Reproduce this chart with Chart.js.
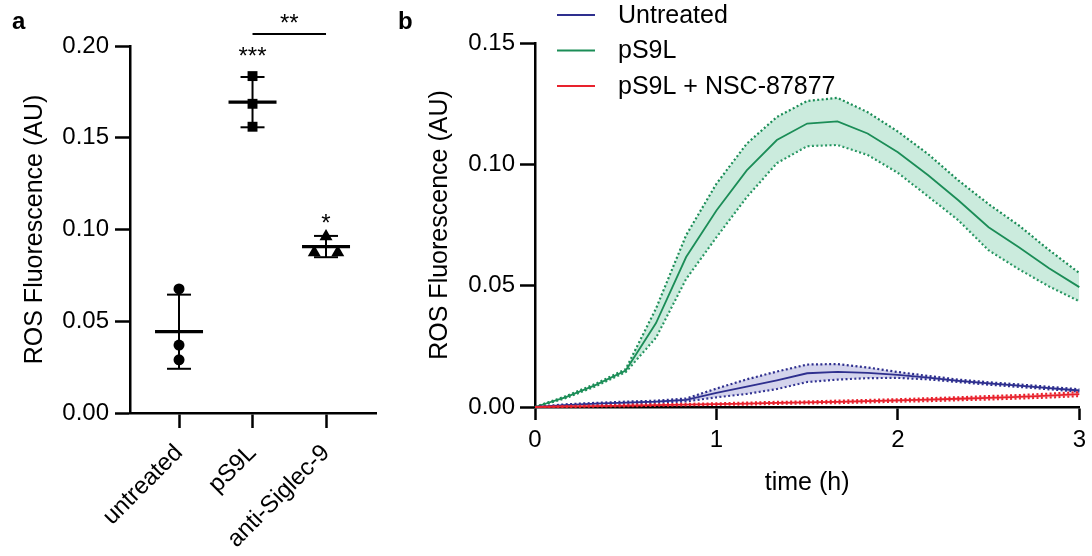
<!DOCTYPE html>
<html>
<head>
<meta charset="utf-8">
<script src="https://cdn.jsdelivr.net/npm/chart.js@4.4.0/dist/chart.umd.min.js"></script>
<style>
  html, body { margin: 0; padding: 0; background: #fff; }
  body { width: 1092px; height: 556px; position: relative; overflow: hidden; font-family: "Liberation Sans", Arial, sans-serif; }
  #wrapA { position: absolute; left: 0; top: 0; width: 395px; height: 556px; }
  #wrapB { position: absolute; left: 395px; top: 0; width: 697px; height: 556px; }
  .panel { position: absolute; font-weight: bold; font-size: 24px; line-height: 28px; color: #000; }
</style>
</head>
<body>
<div id="wrapA"><canvas id="chartA"></canvas></div>
<div id="wrapB"><canvas id="chartB"></canvas></div>
<div class="panel" style="left:12px;top:7px">a</div>
<div class="panel" style="left:398px;top:7px">b</div>

<script>
/* ---- panel a : individual points, mean ± SD ---- */
const GROUPS = ['untreated', 'pS9L', 'anti-Siglec-9'];
const UNTREATED_PTS = [0.0676, 0.037, 0.029];
const PS9L_PTS      = [0.1836, 0.1685, 0.156];
const ANTI_PTS      = [0.0962, 0.0875, 0.0875];
const ANTI_JITTER   = [0, -0.16, 0.16];          // horizontal spread of overlapping points (category units)
const GROUP_MEAN = [0.0443, 0.1694, 0.0907];
const GROUP_SD   = [0.0202, 0.0137, 0.0058];
const STARS      = ['', '***', '*'];
const STAR_Y     = [null, 0.1902, 0.0992];       // baseline of the star text
const BRACKET    = { from: 1, to: 2, y: 0.2066, label: '**', labelY: 0.2082 };

/* ---- panel b : ROS time course, mean ± SD ---- */
const TIME_H = [0, 0.167, 0.333, 0.5, 0.667, 0.833, 1, 1.167, 1.333, 1.5, 1.667, 1.833, 2, 2.167, 2.333, 2.5, 2.667, 2.833, 3];
const SERIES = ['Untreated', 'pS9L', 'pS9L + NSC-87877'];
const UNTREATED_MEAN = [0, 0.0008, 0.0014, 0.0018, 0.0022, 0.0029, 0.0058, 0.0084, 0.011, 0.0139, 0.0145, 0.0141, 0.0132, 0.0121, 0.0108, 0.0097, 0.0088, 0.0078, 0.0068];
const UNTREATED_SD   = [0, 0.0003, 0.0003, 0.0004, 0.0004, 0.0006, 0.0018, 0.003, 0.0036, 0.0036, 0.0032, 0.0022, 0.0012, 0.0007, 0.0005, 0.0005, 0.0005, 0.0005, 0.0005];
const PS9L_MEAN = [0, 0.004, 0.009, 0.0150, 0.0346, 0.0618, 0.081, 0.0975, 0.110, 0.1168, 0.1177, 0.1127, 0.105, 0.0955, 0.0852, 0.0741, 0.0658, 0.0572, 0.0494];
const PS9L_SD   = [0, 0.0004, 0.0005, 0.0006, 0.006, 0.009, 0.011, 0.011, 0.0095, 0.0093, 0.0097, 0.0088, 0.0085, 0.0087, 0.0082, 0.0095, 0.009, 0.0075, 0.0058];
const NSC_MEAN = [0, 0.0002, 0.0004, 0.0006, 0.0008, 0.001, 0.0012, 0.0014, 0.0017, 0.0019, 0.0021, 0.0024, 0.0027, 0.003, 0.0034, 0.0038, 0.0042, 0.0047, 0.0053];
const NSC_SD   = [0, 0.0002, 0.0002, 0.0003, 0.0003, 0.0003, 0.0003, 0.0004, 0.0004, 0.0004, 0.0005, 0.0005, 0.0005, 0.0006, 0.0006, 0.0007, 0.0007, 0.0008, 0.0008];

const COLORS = ['#2e2f8e', '#1b8d57', '#e8222d'];
const FILLS  = ['rgba(95,95,185,0.27)', 'rgba(110,200,160,0.36)', 'rgba(240,90,100,0.25)'];

Chart.defaults.font.family = "'Liberation Sans', Arial, sans-serif";
Chart.defaults.font.size = 24;
Chart.defaults.color = '#000';
Chart.defaults.animation = false;

const axisGrid = (len) => ({ display: true, drawOnChartArea: false, drawTicks: true, tickLength: len, tickWidth: 2.5, tickColor: '#000' });
const axisBorder = { display: true, color: '#000', width: 2.5 };
const titleFont = { size: 25 };

function seg(ctx, x1, y1, x2, y2) {
  ctx.beginPath(); ctx.moveTo(x1, y1); ctx.lineTo(x2, y2); ctx.stroke();
}

// mean line, SD whiskers and significance marks for panel a
const errorBars = {
  id: 'errorBars',
  afterDatasetsDraw(chart) {
    const { ctx, scales: { x, y } } = chart;
    ctx.save();
    ctx.strokeStyle = '#000';
    ctx.fillStyle = '#000';
    GROUP_MEAN.forEach((m, i) => {
      const px = x.getPixelForValue(i);
      const yt = y.getPixelForValue(m + GROUP_SD[i]);
      const yb = y.getPixelForValue(m - GROUP_SD[i]);
      const ym = y.getPixelForValue(m);
      ctx.lineWidth = 2;
      seg(ctx, px, yt, px, yb);
      seg(ctx, px - 12, yt, px + 12, yt);
      seg(ctx, px - 12, yb, px + 12, yb);
      ctx.lineWidth = 3.2;
      seg(ctx, px - 24, ym, px + 24, ym);
    });
    ctx.font = "24px 'Liberation Sans', Arial, sans-serif";
    ctx.textAlign = 'center';
    ctx.textBaseline = 'alphabetic';
    STARS.forEach((s, i) => {
      if (s) ctx.fillText(s, x.getPixelForValue(i), y.getPixelForValue(STAR_Y[i]));
    });
    ctx.lineWidth = 2;
    const by = y.getPixelForValue(BRACKET.y);
    seg(ctx, x.getPixelForValue(BRACKET.from), by, x.getPixelForValue(BRACKET.to), by);
    ctx.fillText(BRACKET.label, x.getPixelForValue((BRACKET.from + BRACKET.to) / 2), y.getPixelForValue(BRACKET.labelY));
    ctx.restore();
  }
};

const pts = (vals, idx, jit) => vals.map((v, i) => ({ x: idx + (jit ? jit[i] : 0), y: v }));

new Chart(document.getElementById('chartA'), {
  type: 'scatter',
  data: {
    datasets: [
      { label: GROUPS[0], data: pts(UNTREATED_PTS, 0), pointStyle: 'circle', pointRadius: 5.5 },
      { label: GROUPS[1], data: pts(PS9L_PTS, 1), pointStyle: 'rect', pointRadius: 7 },
      { label: GROUPS[2], data: pts(ANTI_PTS, 2, ANTI_JITTER), pointStyle: 'triangle', pointRadius: 7.5 }
    ].map(d => Object.assign(d, { backgroundColor: '#000', borderColor: '#000', borderWidth: 0, pointHoverRadius: d.pointRadius, clip: false }))
  },
  options: {
    responsive: true,
    maintainAspectRatio: false,
    layout: { padding: { top: 46, right: 19, left: 0, bottom: 0 } },
    plugins: { legend: { display: false }, tooltip: { enabled: false } },
    scales: {
      x: {
        type: 'linear', min: -0.667, max: 2.68,
        afterBuildTicks: s => { s.ticks = GROUPS.map((_, i) => ({ value: i })); },
        afterFit: s => { s.height = 143; },
        grid: axisGrid(15),
        border: axisBorder,
        ticks: { autoSkip: false, minRotation: 45, maxRotation: 45, padding: 11, callback: v => GROUPS[v] ?? '' }
      },
      y: {
        min: 0, max: 0.2,
        afterFit: s => { s.width = 130; },
        grid: axisGrid(15),
        border: axisBorder,
        ticks: { stepSize: 0.05, padding: 6, callback: v => v.toFixed(2) },
        title: { display: true, text: 'ROS Fluorescence (AU)', font: titleFont, padding: { top: 20, bottom: 0 } }
      }
    }
  },
  plugins: [errorBars]
});

// legend drawn above the plot area, like the original
const sideLegend = {
  id: 'sideLegend',
  afterDraw(chart) {
    const { ctx } = chart;
    ctx.save();
    ctx.font = "25px 'Liberation Sans', Arial, sans-serif";
    ctx.textBaseline = 'middle';
    ctx.textAlign = 'left';
    SERIES.forEach((name, i) => {
      const yy = 15 + i * 35.5;
      ctx.strokeStyle = COLORS[i];
      ctx.lineWidth = 2;
      seg(ctx, 162, yy, 200, yy);
      ctx.fillStyle = '#000';
      ctx.fillText(name, 223, yy + 1);
    });
    ctx.restore();
  }
};

function bandSets(name, mean, sd, i) {
  const up = TIME_H.map((t, k) => ({ x: t, y: mean[k] + sd[k] }));
  const lo = TIME_H.map((t, k) => ({ x: t, y: mean[k] - sd[k] }));
  const mid = TIME_H.map((t, k) => ({ x: t, y: mean[k] }));
  const dotted = { borderColor: COLORS[i], borderWidth: 2.2, borderDash: [2, 2.4], pointRadius: 0, tension: 0, clip: false };
  return [
    { label: name, data: mid, borderColor: COLORS[i], borderWidth: 1.8, pointRadius: 0, tension: 0, fill: false, clip: false },
    Object.assign({ label: name + ' +SD', data: up, fill: '+1', backgroundColor: FILLS[i] }, dotted),
    Object.assign({ label: name + ' -SD', data: lo, fill: false }, dotted)
  ];
}

new Chart(document.getElementById('chartB'), {
  type: 'line',
  data: {
    datasets: [
      ...bandSets(SERIES[2], NSC_MEAN, NSC_SD, 2),
      ...bandSets(SERIES[0], UNTREATED_MEAN, UNTREATED_SD, 0),
      ...bandSets(SERIES[1], PS9L_MEAN, PS9L_SD, 1)
    ]
  },
  options: {
    responsive: true,
    maintainAspectRatio: false,
    layout: { padding: { top: 43, right: 7, left: 0, bottom: 0 } },
    plugins: { legend: { display: false }, tooltip: { enabled: false } },
    scales: {
      x: {
        type: 'linear', min: 0, max: 3,
        afterFit: s => { s.height = 149; },
        grid: axisGrid(13),
        border: axisBorder,
        ticks: { stepSize: 1, padding: 6, callback: v => String(v) },
        title: { display: true, text: 'time (h)', font: titleFont, padding: { top: 0, bottom: 58 } }
      },
      y: {
        min: 0, max: 0.15,
        afterFit: s => { s.width = 140; },
        grid: axisGrid(15),
        border: axisBorder,
        ticks: { stepSize: 0.05, padding: 5, callback: v => v.toFixed(2) },
        title: { display: true, text: 'ROS Fluorescence (AU)', font: titleFont, padding: { top: 30, bottom: 0 } }
      }
    }
  },
  plugins: [sideLegend]
});
</script>
</body>
</html>
